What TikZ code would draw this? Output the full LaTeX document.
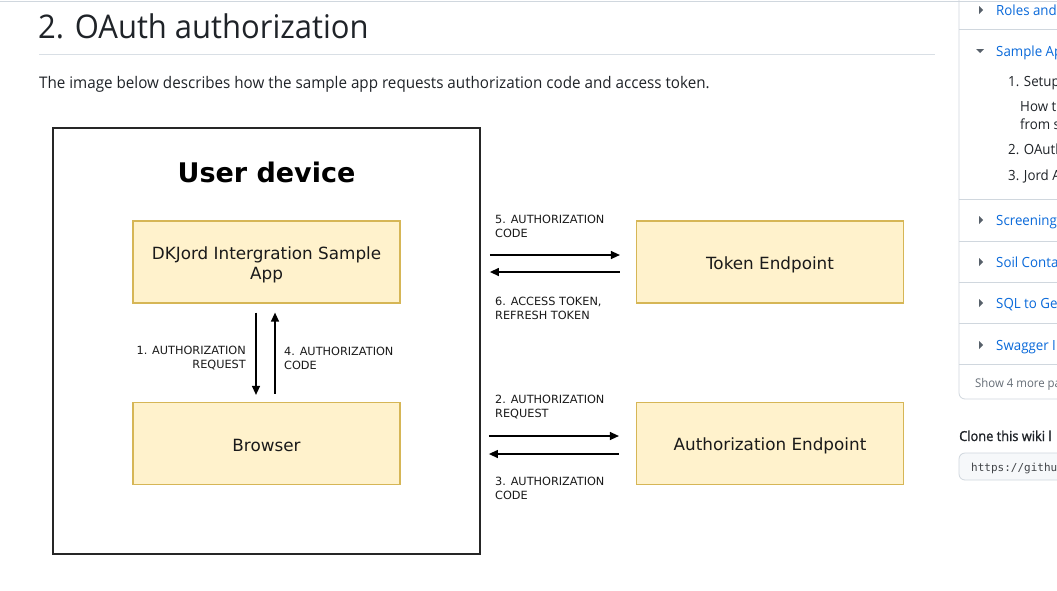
\documentclass[tikz,border=0pt]{standalone}
\usepackage{fontspec}
\setmainfont{Open Sans}[FakeStretch=0.95]
\newfontfamily\semib{Open Sans}[FakeStretch=0.93, FakeBold=1.2]
\newfontfamily\dv{DejaVu Sans}
\setmonofont{DejaVu Sans Mono}
\usetikzlibrary{arrows.meta,calc}
\definecolor{boxfill}{HTML}{FFF2CC}
\definecolor{boxdraw}{HTML}{D6B656}
\definecolor{ghtext}{HTML}{1F2328}
\definecolor{ghlink}{HTML}{0969DA}
\definecolor{ghline}{HTML}{D0D7DE}
\definecolor{ghmuted}{HTML}{656D76}
\definecolor{ghicon}{HTML}{57606A}
\definecolor{ghbg}{HTML}{F6F8FA}
\definecolor{dtext}{HTML}{1A1A1A}
\tikzset{
  stepbox/.style={draw=boxdraw, fill=boxfill, line width=1.2pt, minimum width=267pt, minimum height=82pt, inner sep=0pt},
  boxtext/.style={align=center, text=dtext, font=\dv\fontsize{16.8}{20}\selectfont, inner sep=0pt},
  lbl/.style={text=dtext, font=\dv\fontsize{11.3}{14}\selectfont, inner sep=0pt},
  arr/.style={line width=1.3pt, -{Triangle[length=9pt,width=8pt]}, black},
  sidelink/.style={anchor=base west, inner sep=0pt, text=ghlink, font=\fontsize{14}{17}\selectfont},
  sidetxt/.style={anchor=base west, inner sep=0pt, text=ghtext, font=\fontsize{14}{17}\selectfont},
  sep/.style={draw=ghline, line width=0.8pt},
}
\begin{document}
\begin{tikzpicture}[x=1pt,y=-1pt]
\useasboundingbox (0,0) rectangle (1057,590);
\fill[white] (0,0) rectangle (1057,590);
% page chrome
\draw[sep] (0,1) -- (1057,1);
\node[anchor=base west, inner sep=0pt, text=ghtext, font=\fontsize{32.6}{38}\selectfont] (title) at (38,38) {2. OAuth authorization};
\draw[draw=ghline!80, line width=0.8pt] (39,54) -- (935,54);
\node[anchor=base west, inner sep=0pt, text=ghtext, font=\fontsize{16}{20}\selectfont] (intro) at (39,88) {The image below describes how the sample app requests authorization code and access token.};
% sidebar
\draw[sep, rounded corners=6pt] (959,-10) -- (959,399) -- (1070,399);
\foreach \yy in {29,199,241,282,323,364} \draw[sep] (959,\yy) -- (1060,\yy);
\fill[ghicon] (979,6) -- (983,10) -- (979,14) -- cycle;
\fill[ghicon] (976,49) -- (984,49) -- (980,53) -- cycle;
\foreach \yy in {220,262,303,345} \fill[ghicon] (979,\yy-4) -- (983,\yy) -- (979,\yy+4) -- cycle;
\node[sidelink] (s1) at (996,15) {Roles and};
\node[sidelink] (s2) at (996,56) {Sample Ap};
\node[sidetxt] (s3) at (1008,86) {1. Setup};
\node[sidetxt] (s4) at (1020,111) {How t};
\node[sidetxt] (s5) at (1020,129) {from s};
\node[sidetxt] (s6) at (1008,154) {2. OAuth};
\node[sidetxt] (s7) at (1008,180) {3. Jord A};
\node[sidelink] (s8) at (996,225) {Screening};
\node[sidelink] (s9) at (996,267) {Soil Conta};
\node[sidelink] (s10) at (996,308) {SQL to Ge};
\node[sidelink] (s11) at (996,350) {Swagger I};
\node[anchor=base west, inner sep=0pt, text=ghmuted, font=\fontsize{12}{15}\selectfont] (s12) at (975,387) {Show 4 more pa};
\node[sidetxt, font=\semib\fontsize{13.8}{17}\selectfont] (s13) at (959,441) {Clone this wiki l};
\draw[draw=ghline, fill=ghbg, line width=0.8pt, rounded corners=6pt] (1070,453) -- (959,453) -- (959,480) -- (1070,480);
\node[anchor=base west, inner sep=0pt, text=ghtext!85, font=\ttfamily\fontsize{11}{14}\selectfont] (s14) at (971,471) {https://githu};
% diagram
\draw[draw=black!85, line width=1.6pt] (53,128) rectangle (480,554);
\node[text=black, font=\dv\bfseries\fontsize{27}{32}\selectfont, inner sep=0pt] (udt) at (266.5,172) {User device};
\node[stepbox] (app) at (266.5,262) {};
\node[stepbox] (browser) at (266.5,443.5) {};
\node[stepbox] (token) at (770,262) {};
\node[stepbox] (auth) at (770,443.5) {};
\node[boxtext] (appt) at ($(app.center)+(0,3)$) {DKJord Intergration Sample\\App};
\node[boxtext] (browsert) at ($(browser.center)+(0,1.5)$) {Browser};
\node[boxtext] (tokent) at ($(token.center)+(0,3)$) {Token Endpoint};
\node[boxtext] (autht) at ($(auth.center)+(0,2)$) {Authorization Endpoint};
% vertical arrows
\draw[arr] ($(app.south)+(-10.5,9)$) -- ($(browser.north)+(-10.5,-7)$);
\draw[arr] ($(browser.north)+(8.5,-8)$) -- ($(app.south)+(8.5,9)$);
% horizontal arrows top
\draw[arr] ($(token.west)+(-146,-7)$) -- ($(token.west)+(-16,-7)$);
\draw[arr] ($(token.west)+(-16,10)$) -- ($(token.west)+(-146,10)$);
% horizontal arrows bottom
\draw[arr] ($(auth.west)+(-147,-7.5)$) -- ($(auth.west)+(-17,-7.5)$);
\draw[arr] ($(auth.west)+(-17,10.5)$) -- ($(auth.west)+(-147,10.5)$);
% labels
\node[lbl, anchor=west, align=left] (l5) at (495,226) {5. AUTHORIZATION\\CODE};
\node[lbl, anchor=west, align=left] (l6) at (495,308) {6. ACCESS TOKEN,\\REFRESH TOKEN};
\node[lbl, anchor=west, align=left] (l2) at (495,407.5) {2. AUTHORIZATION\\REQUEST};
\node[lbl, anchor=west, align=left] (l3) at (495,488.5) {3. AUTHORIZATION\\CODE};
\node[lbl, anchor=east, align=right] (l1) at (246,358) {1. AUTHORIZATION\\REQUEST};
\node[lbl, anchor=west, align=left] (l4) at (284,358) {4. AUTHORIZATION\\CODE};
\end{tikzpicture}
\end{document}
